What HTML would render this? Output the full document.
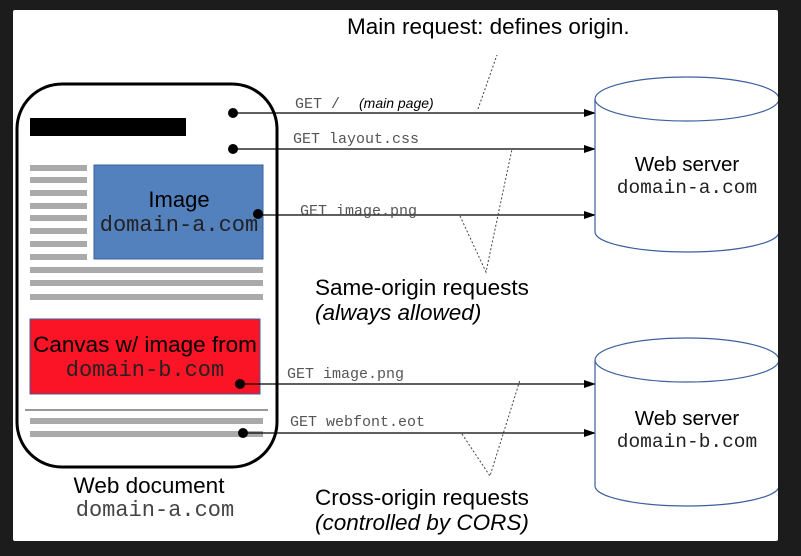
<!DOCTYPE html>
<html><head><style>
html,body{margin:0;padding:0;background:#1c1c1c;}
svg{display:block;}
.m{font-family:"Liberation Mono",monospace;}
.s{font-family:"Liberation Sans",sans-serif;}
</style></head><body>
<svg width="801" height="556" viewBox="0 0 801 556">
<rect x="0" y="0" width="801" height="556" fill="#1c1c1c"/>
<rect x="13" y="10" width="765" height="531" rx="2" fill="#fff"/>
<defs><marker id="a" markerWidth="12" markerHeight="8" refX="12" refY="4" orient="auto" markerUnits="userSpaceOnUse"><path d="M0,0 L12,4 L0,8 z" fill="#000"/></marker></defs>
<rect x="17" y="84" width="260" height="383" rx="45" fill="#fff" stroke="#000" stroke-width="3"/>
<rect x="30" y="118" width="156" height="18" fill="#000"/>
<g fill="#aaa">
<rect x="30" y="165" width="57" height="6"/><rect x="30" y="177" width="57" height="6"/><rect x="30" y="190" width="57" height="6"/><rect x="30" y="203" width="57" height="6"/><rect x="30" y="215" width="57" height="6"/><rect x="30" y="228" width="57" height="6"/><rect x="30" y="241" width="57" height="6"/><rect x="30" y="254" width="57" height="6"/>
<rect x="30" y="267" width="233" height="6"/><rect x="30" y="280" width="233" height="6"/><rect x="30" y="294" width="233" height="6"/>
<rect x="30" y="418" width="233" height="6"/><rect x="30" y="431" width="233" height="6"/>
</g>
<rect x="94" y="165" width="169" height="94" fill="#5381be" stroke="#3d5f9e"/>
<text x="179" y="207" text-anchor="middle" class="s" font-size="22">Image</text>
<text x="179" y="231" text-anchor="middle" class="m" font-size="22" fill="#222">domain-a.com</text>
<rect x="30" y="319" width="230" height="75" fill="#fb1425" stroke="#3d5f9e"/>
<text x="145" y="352" text-anchor="middle" class="s" font-size="22.5">Canvas w/ image from</text>
<text x="145" y="376" text-anchor="middle" class="m" font-size="22" fill="#222">domain-b.com</text>
<line x1="25" y1="410" x2="268" y2="410" stroke="#777" stroke-width="1.5"/>
<text x="149" y="493" text-anchor="middle" class="s" font-size="22.5">Web document</text>
<text x="155" y="516" text-anchor="middle" class="m" font-size="22" fill="#444">domain-a.com</text>
<g stroke="#000" stroke-width="1.3" marker-end="url(#a)">
<line x1="233" y1="113" x2="596" y2="113"/>
<line x1="233" y1="149" x2="596" y2="149"/>
<line x1="258" y1="215" x2="596" y2="215"/>
<line x1="240" y1="384" x2="596" y2="384"/>
<line x1="243" y1="433" x2="596" y2="433"/>
</g>
<g fill="#000">
<circle cx="233" cy="113" r="5"/><circle cx="233" cy="149" r="5"/><circle cx="258" cy="214" r="5"/><circle cx="240" cy="384" r="5"/><circle cx="243" cy="433" r="5"/>
</g>
<g class="m" font-size="15" fill="#555">
<text x="295" y="108">GET /</text>
<text x="293" y="143">GET layout.css</text>
<text x="300" y="215">GET image.png</text>
<text x="287" y="378">GET image.png</text>
<text x="290" y="426">GET webfont.eot</text>
</g>
<text x="359" y="108" class="s" font-size="14" font-style="italic">(main page)</text>
<g stroke="#444" stroke-width="1" stroke-dasharray="2,2" fill="none">
<line x1="478" y1="109" x2="497" y2="55"/>
<polyline points="460,216 486,272 512,149"/>
<polyline points="462,434 490,476 520,380"/>
</g>
<g class="s" font-size="22.5">
<text x="347" y="34">Main request: defines origin.</text>
<text x="315" y="295">Same-origin requests</text>
<text x="315" y="320" font-style="italic">(always allowed)</text>
<text x="315" y="505">Cross-origin requests</text>
<text x="315" y="530" font-style="italic">(controlled by CORS)</text>
</g>
<g fill="#fff" stroke="#3d5f9e" stroke-width="1.2">
<path d="M595,99 L595,232 A92,20 0 0 0 779,232 L779,99"/>
<ellipse cx="687" cy="99" rx="92" ry="22"/>
<path d="M595,360 L595,486 A92,20 0 0 0 779,486 L779,360"/>
<ellipse cx="687" cy="360" rx="92" ry="22"/>
</g>
<text x="687" y="171" text-anchor="middle" class="s" font-size="20.5">Web server</text>
<text x="687" y="193" text-anchor="middle" class="m" font-size="19.5" fill="#222">domain-a.com</text>
<text x="687" y="425" text-anchor="middle" class="s" font-size="20.5">Web server</text>
<text x="687" y="447" text-anchor="middle" class="m" font-size="19.5" fill="#222">domain-b.com</text>
<rect x="778" y="0" width="23" height="556" fill="#1c1c1c"/>
</svg>
</body></html>
